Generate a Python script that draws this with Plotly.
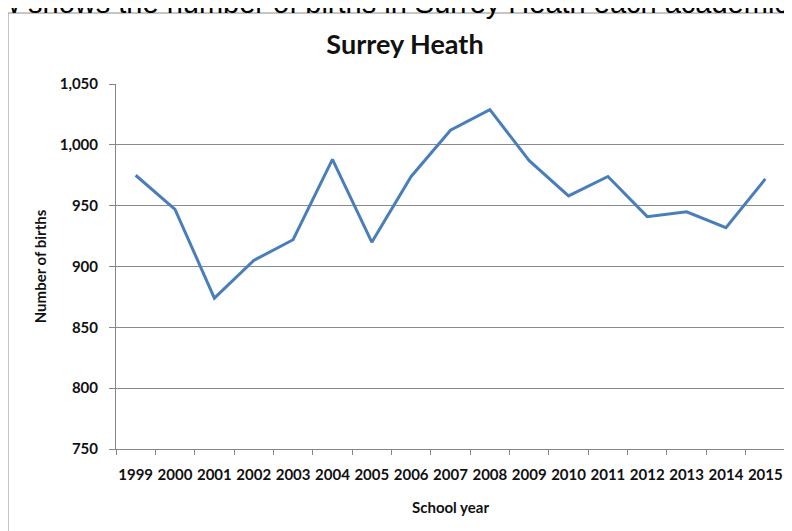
import plotly.graph_objects as go

# births per school year
school_years = ["1999", "2000", "2001", "2002", "2003", "2004", "2005", "2006", "2007",
                "2008", "2009", "2010", "2011", "2012", "2013", "2014", "2015"]
births = [975, 947, 874, 905, 922, 988, 920, 974, 1012,
          1029, 987, 958, 974, 941, 945, 932, 972]
y_ticks = [750, 800, 850, 900, 950, 1000, 1050]
y_tick_text = ["750", "800", "850", "900", "950", "1,000", "1,050"]

# the page body has an 8px margin, so the figure is drawn 8px in from the
# window corner; layout numbers below are window pixels minus that offset
OFF = 8
W, H = 792 - OFF, 531 - OFF
L, T = 116 - OFF, 84 - OFF
R = W - (785 - OFF)
B = H - (449 - OFF)
plot_w = W - L - R
plot_h = H - T - B


def px_x(x):
    # window x pixel -> paper coordinate
    return (x - OFF - L) / plot_w


def px_y(y):
    # window y pixel -> paper coordinate
    return (H - B - (y - OFF)) / plot_h


fig = go.Figure()
fig.add_scatter(
    x=school_years,
    y=births,
    mode="lines",
    line=dict(color="#4a7ebb", width=3),
    showlegend=False,
)

axis_font = dict(family="Lato", size=15, color="#111111", weight="bold")
title_font = dict(family="Lato", size=15, color="#111111", weight="bold")

fig.update_layout(
    width=W,
    height=H,
    margin=dict(l=L, r=R, t=T, b=B, autoexpand=False),
    paper_bgcolor="white",
    plot_bgcolor="white",
    xaxis=dict(
        type="category",
        range=[-0.5, len(school_years) - 0.5],
        automargin=False,
        tickangle=0,
        showgrid=False,
        showline=True,
        linecolor="#868686",
        linewidth=1,
        ticks="outside",
        tickson="boundaries",
        ticklen=5,
        tickcolor="#868686",
        tickfont=axis_font,
        ticklabelstandoff=12,
        title=dict(text="School year", font=title_font, standoff=20),
    ),
    yaxis=dict(
        range=[750, 1050],
        automargin=False,
        tickvals=y_ticks,
        ticktext=y_tick_text,
        showgrid=True,
        gridcolor="#8a8a8a",
        gridwidth=1,
        zeroline=False,
        showline=True,
        linecolor="#868686",
        linewidth=1,
        ticks="outside",
        ticklen=6,
        tickcolor="#868686",
        tickfont=axis_font,
        ticklabelstandoff=8,
        title=dict(text="Number of births", font=title_font, standoff=9),
    ),
    title=dict(
        text="<b>Surrey Heath</b>",
        font=dict(family="Lato", size=27, color="#111111"),
        x=(405 - OFF) / W,
        xanchor="center",
        y=1 - (45 - OFF) / H,
        yanchor="middle",
    ),
)

# chart frame, cut off on the right and bottom like the reference
fig.add_shape(
    type="rect", xref="paper", yref="paper",
    x0=px_x(8), x1=px_x(830), y0=px_y(560), y1=px_y(13),
    line=dict(color="#8c8c8c", width=1),
    fillcolor="rgba(0,0,0,0)",
    layer="above",
)

# cropped sentence from the surrounding document
fig.add_annotation(
    text="w shows the number of births in Surrey Heath each academic year",
    xref="paper", yref="paper",
    x=px_x(-4), y=px_y(21),
    xanchor="left", yanchor="bottom",
    showarrow=False,
    font=dict(family="Liberation Sans", size=29, color="#000000"),
)

fig.write_html("out.html")
